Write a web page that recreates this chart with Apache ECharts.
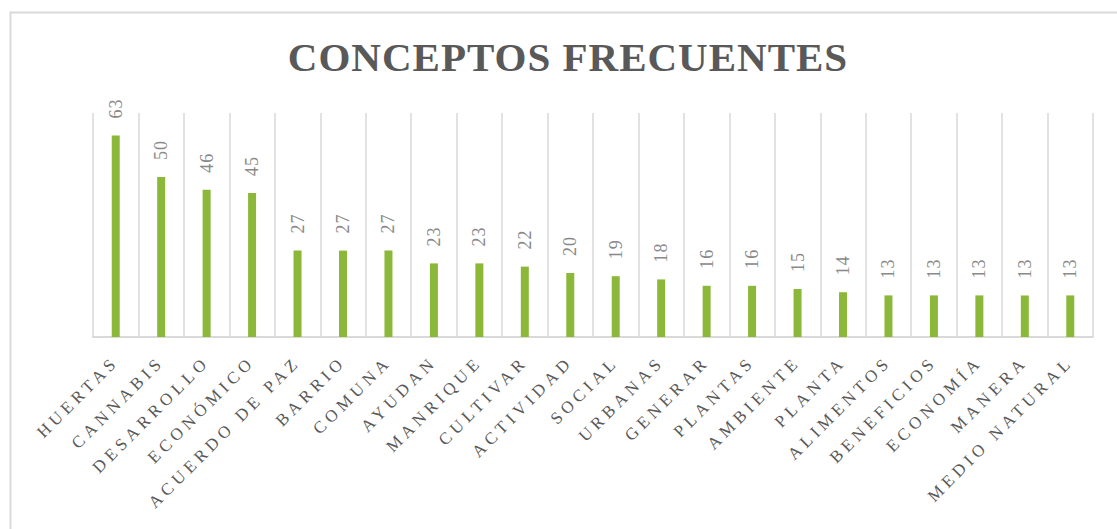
<!DOCTYPE html>
<html>
<head>
<meta charset="utf-8">
<title>Conceptos frecuentes</title>
<script src="https://cdn.jsdelivr.net/npm/echarts@6/dist/echarts.min.js"></script>
<style>
  html, body { margin: 0; padding: 0; background: #fff; }
  #chart { width: 1117px; height: 529px; }
  /* espaciado de letras como en el original */
  #chart text { letter-spacing: 4.5px; }
  #chart text[style*="41px"] { letter-spacing: 1px; }
  #chart text[style*="18px"] { letter-spacing: 1px; }
</style>
</head>
<body>
<div id="chart"></div>
<script>
// datos del gráfico
var titulo = 'CONCEPTOS FRECUENTES';
var conceptos = ['HUERTAS', 'CANNABIS', 'DESARROLLO', 'ECONÓMICO', 'ACUERDO DE PAZ', 'BARRIO',
  'COMUNA', 'AYUDAN', 'MANRIQUE', 'CULTIVAR', 'ACTIVIDAD', 'SOCIAL', 'URBANAS', 'GENERAR',
  'PLANTAS', 'AMBIENTE', 'PLANTA', 'ALIMENTOS', 'BENEFICIOS', 'ECONOMÍA', 'MANERA', 'MEDIO NATURAL'];
var frecuencias = [63, 50, 46, 45, 27, 27, 27, 23, 23, 22, 20, 19, 18, 16, 16, 15, 14, 13, 13, 13, 13, 13];

var myChart = echarts.init(document.getElementById('chart'), null, { renderer: 'svg' });

myChart.setOption({
  backgroundColor: '#fff',
  animation: false,
  title: {
    text: titulo,
    left: 563,
    top: 31,
    textAlign: 'center',
    textStyle: {
      fontFamily: 'Liberation Serif',
      fontWeight: 'bold',
      fontSize: 41,
      color: '#595959'
    }
  },
  // marco exterior del gráfico
  graphic: [{
    type: 'rect',
    left: 8,
    top: 10,
    shape: { width: 1200, height: 600 },
    style: { fill: 'none', stroke: '#d9d9d9', lineWidth: 2 },
    silent: true
  }],
  grid: { left: 93, right: 24, top: 113, bottom: 192 },
  xAxis: {
    type: 'category',
    data: conceptos,
    boundaryGap: true,
    axisLine: { lineStyle: { color: '#d9d9d9', width: 2 } },
    axisTick: { show: false },
    splitLine: { show: true, lineStyle: { color: '#d9d9d9', width: 1.5 } },
    axisLabel: {
      interval: 0,
      rotate: 45,
      margin: 22,
      fontFamily: 'Liberation Serif',
      fontSize: 17,
      color: '#595959'
    }
  },
  yAxis: {
    type: 'value',
    min: 0,
    max: 70,
    show: false,
    splitLine: { show: false }
  },
  series: [{
    name: 'Frecuencia',
    type: 'bar',
    data: frecuencias,
    barWidth: 8,
    itemStyle: { color: '#8bb838' },
    label: {
      show: true,
      position: 'top',
      rotate: 90,
      align: 'left',
      verticalAlign: 'middle',
      distance: 17,
      fontFamily: 'Liberation Serif',
      fontSize: 18,
      color: '#898989'
    }
  }]
});
</script>
</body>
</html>
